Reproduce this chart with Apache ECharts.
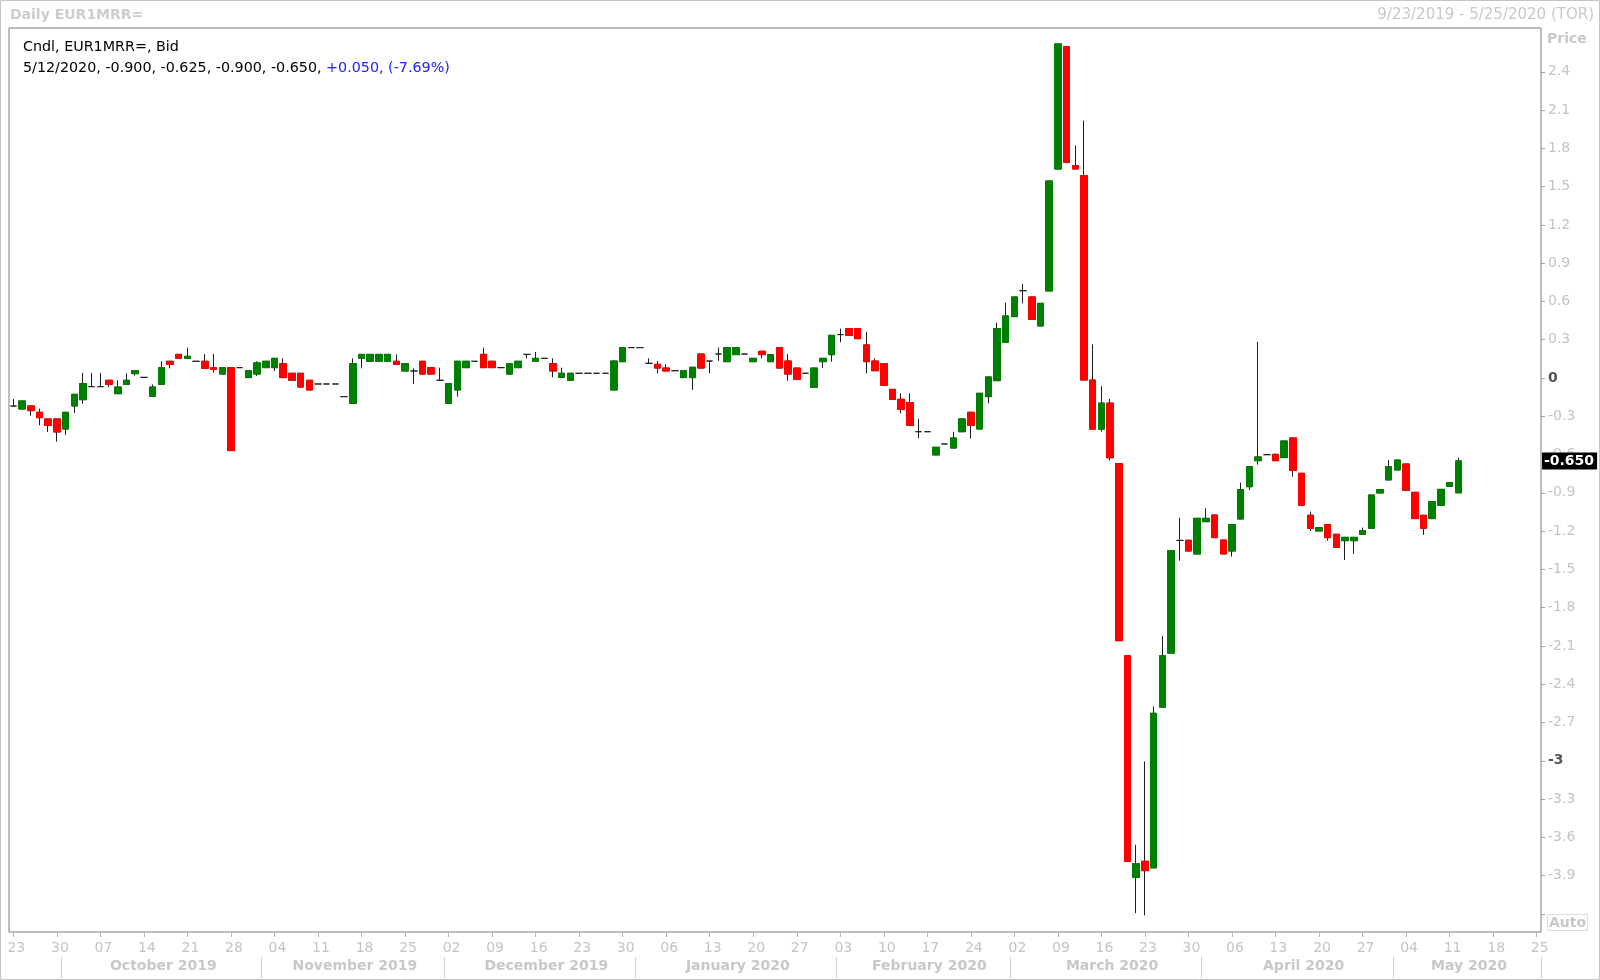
<!DOCTYPE html>
<html><head><meta charset="utf-8">
<script src="https://cdn.jsdelivr.net/npm/echarts@6/dist/echarts.min.js"></script>
<style>html,body{margin:0;padding:0;background:#fff}#c{width:1600px;height:980px}</style>
</head><body><div id="c"></div>
<script>
// ---- data ----
const startDate = '2019-09-23';
const endDate = '2020-05-25';
const open = [
-0.22,-0.243,-0.219,-0.269,-0.321,-0.321,-0.40,-0.219,-0.17,-0.068,
-0.068,-0.018,-0.123,-0.05,0.034,0.005,-0.144,-0.05,0.131,0.185,
0.154,0.131,0.131,0.081,0.031,0.081,0.081,0.003,0.031,0.081,
0.081,0.112,0.037,0.037,-0.018,-0.047,-0.047,-0.047,-0.146,-0.199,
0.154,0.131,0.131,0.131,0.131,0.055,0.055,0.131,0.081,-0.018,
-0.199,-0.094,0.081,0.131,0.185,0.131,0.081,0.031,0.081,0.185,
0.131,0.154,0.112,0.005,-0.018,0.037,0.037,0.037,0.037,-0.094,
0.128,0.238,0.238,0.115,0.107,0.078,0.057,0.003,0.003,0.188,
0.133,0.188,0.128,0.183,0.188,0.128,0.209,0.128,0.238,0.133,
0.078,0.037,-0.073,0.128,0.183,0.34,0.387,0.387,0.259,0.133,
0.112,-0.089,-0.167,-0.193,-0.421,-0.421,-0.603,-0.517,-0.549,-0.421,
-0.269,-0.4,-0.146,-0.021,0.28,0.481,0.684,0.635,0.408,0.682,
1.638,2.597,1.664,1.586,-0.016,-0.401,-0.197,-0.672,-2.177,-3.915,
-3.788,-3.839,-2.58,-2.156,-1.273,-1.272,-1.379,-1.126,-1.074,-1.27,
-1.356,-1.105,-0.852,-0.648,-0.601,-0.598,-0.624,-0.47,-0.747,-1.076,
-1.199,-1.149,-1.225,-1.275,-1.275,-1.225,-1.178,-0.901,-0.799,-0.721,
-0.674,-0.896,-1.076,-1.102,-0.998,-0.849,-0.9
];
const close = [
-0.22,-0.18,-0.256,-0.311,-0.371,-0.423,-0.269,-0.128,-0.044,-0.068,
-0.068,-0.05,-0.071,-0.018,0.057,0.005,-0.071,0.081,0.107,0.154,
0.17,0.131,0.076,0.068,0.081,-0.569,0.081,0.057,0.118,0.131,
0.154,0.003,-0.018,-0.071,-0.094,-0.047,-0.047,-0.047,-0.146,0.112,
0.185,0.185,0.185,0.185,0.107,0.112,0.055,0.031,0.031,-0.018,
-0.044,0.131,0.131,0.131,0.081,0.081,0.081,0.112,0.131,0.185,
0.154,0.154,0.055,0.037,0.037,0.037,0.037,0.037,0.037,0.133,
0.238,0.238,0.238,0.115,0.078,0.055,0.057,0.057,0.084,0.078,
0.133,0.188,0.238,0.238,0.188,0.154,0.183,0.183,0.078,0.031,
-0.01,0.037,0.078,0.154,0.334,0.34,0.334,0.308,0.128,0.057,
-0.057,-0.167,-0.246,-0.371,-0.421,-0.421,-0.543,-0.517,-0.47,-0.321,
-0.371,-0.12,0.008,0.387,0.486,0.635,0.684,0.46,0.585,1.544,
2.618,1.69,1.638,-0.016,-0.401,-0.197,-0.625,-2.059,-3.788,-3.807,
-3.861,-2.628,-2.177,-1.352,-1.273,-1.356,-1.1,-1.1,-1.251,-1.379,
-1.149,-0.875,-0.695,-0.619,-0.601,-0.648,-0.494,-0.724,-0.998,-1.178,
-1.173,-1.251,-1.327,-1.249,-1.249,-1.196,-0.917,-0.875,-0.695,-0.643,
-0.88,-1.102,-1.178,-0.969,-0.873,-0.82,-0.65
];
const low = [
-0.22,-0.243,-0.295,-0.371,-0.423,-0.499,-0.447,-0.274,-0.201,-0.068,
-0.068,-0.073,-0.123,-0.05,0.018,0.005,-0.144,-0.05,0.076,0.154,
0.154,0.131,0.076,0.042,0.031,-0.569,0.081,0.003,0.016,0.081,
0.055,0.003,-0.018,-0.071,-0.094,-0.047,-0.047,-0.047,-0.146,-0.199,
0.076,0.131,0.131,0.131,0.107,0.055,-0.047,0.031,0.031,-0.018,
-0.199,-0.146,0.081,0.131,0.081,0.081,0.081,0.031,0.081,0.154,
0.131,0.154,0.005,0.005,-0.018,0.037,0.037,0.037,0.037,-0.094,
0.128,0.238,0.238,0.115,0.037,0.055,0.057,0.003,-0.094,0.078,
0.037,0.133,0.128,0.183,0.188,0.128,0.154,0.128,0.078,-0.021,
-0.01,0.037,-0.073,0.078,0.128,0.28,0.334,0.308,0.037,0.057,
-0.057,-0.167,-0.277,-0.371,-0.473,-0.421,-0.603,-0.517,-0.549,-0.421,
-0.475,-0.4,-0.199,-0.021,0.28,0.481,0.585,0.46,0.408,0.682,
1.638,1.69,1.638,-0.016,-0.401,-0.421,-0.647,-2.059,-3.788,-4.194,
-4.212,-3.839,-2.58,-2.156,-1.432,-1.356,-1.379,-1.126,-1.251,-1.379,
-1.4,-1.105,-0.878,-0.679,-0.601,-0.648,-0.624,-0.773,-0.998,-1.199,
-1.199,-1.275,-1.327,-1.426,-1.379,-1.225,-1.178,-0.901,-0.799,-0.721,
-0.88,-1.102,-1.23,-1.102,-0.998,-0.849,-0.9
];
const high = [
-0.165,-0.18,-0.219,-0.24,-0.321,-0.321,-0.269,-0.128,0.039,0.039,
0.039,-0.018,-0.018,0.037,0.057,0.005,-0.05,0.131,0.131,0.185,
0.238,0.131,0.188,0.188,0.081,0.081,0.081,0.057,0.131,0.131,
0.154,0.154,0.037,0.037,-0.018,-0.047,-0.047,-0.047,-0.146,0.154,
0.185,0.185,0.185,0.185,0.185,0.112,0.076,0.131,0.081,0.081,
-0.044,0.131,0.131,0.131,0.238,0.131,0.081,0.112,0.131,0.185,
0.204,0.154,0.154,0.081,0.037,0.037,0.037,0.037,0.037,0.133,
0.238,0.238,0.238,0.154,0.133,0.107,0.057,0.057,0.084,0.188,
0.133,0.238,0.238,0.238,0.188,0.154,0.209,0.183,0.238,0.188,
0.078,0.037,0.078,0.154,0.334,0.387,0.387,0.387,0.36,0.154,
0.112,-0.089,-0.12,-0.12,-0.321,-0.421,-0.543,-0.517,-0.421,-0.321,
-0.269,-0.12,0.008,0.434,0.59,0.635,0.737,0.635,0.585,1.544,
2.618,2.597,1.821,2.017,0.264,-0.064,-0.164,-0.672,-2.177,-3.659,
-3.005,-2.574,-2.022,-1.352,-1.095,-1.272,-1.1,-1.021,-1.074,-1.27,
-1.149,-0.82,-0.695,0.282,-0.601,-0.598,-0.494,-0.47,-0.747,-1.048,
-1.173,-1.149,-1.225,-1.249,-1.249,-1.173,-0.917,-0.875,-0.643,-0.643,
-0.674,-0.896,-1.076,-0.969,-0.873,-0.82,-0.625
];
const yLabelValues = [2.4,2.1,1.8,1.5,1.2,0.9,0.6,0.3,0,-0.3,-0.6,-0.9,-1.2,-1.5,-1.8,-2.1,-2.4,-2.7,-3,-3.3,-3.6,-3.9];
const yTickValues = [2.4,2.1,1.8,1.5,1.2,0.9,0.6,0.3,0,-0.3,-0.6,-0.9,-1.2,-1.5,-1.8,-2.1,-2.4,-2.7,-3,-3.3,-3.6,-3.9,-4.2];
const boldTicks = [0, -3];
const yMin = -4.342, yMax = 2.743;
const changeText = '+0.050, (-7.69%)';
const monthNames = ['January','February','March','April','May','June','July','August','September','October','November','December'];

// ---- derived ----
function weekdays(s, e) {
  const out = []; let d = new Date(s + 'T00:00:00Z'); const end = new Date(e + 'T00:00:00Z');
  while (d <= end) { const w = d.getUTCDay(); if (w > 0 && w < 6) out.push(d.toISOString().slice(0, 10)); d = new Date(d.getTime() + 86400000); }
  return out;
}
const dates = weekdays(startDate, endDate);
const isMonday = v => new Date(v + 'T00:00:00Z').getUTCDay() === 1;
const monthIdx = {};
dates.forEach((d, i) => { const k = d.slice(0, 7); (monthIdx[k] = monthIdx[k] || []).push(i); });
const monthMid = new Set(), monthStart = new Set();
Object.keys(monthIdx).forEach(k => { const a = monthIdx[k]; if (a[0] > 0) monthStart.add(a[0]); if (a.length >= 10) monthMid.add(a[Math.floor(a.length / 2)]); });

const wickData = open.map((o, i) => [o, close[i], low[i], high[i]]);
const bodyData = open.map((o, i) => o === close[i] ? '-' : [o, close[i], Math.min(o, close[i]), Math.max(o, close[i])]);
const last = open.length - 1;
const lastDate = dates[last];
const mdY = s => (+s.slice(5, 7)) + '/' + (+s.slice(8, 10)) + '/' + s.slice(0, 4);
const f3 = v => v.toFixed(3);
const headerLine2 = mdY(lastDate) + ', ' + [open[last], high[last], low[last], close[last]].map(f3).join(', ') + ', ';
const rangeText = mdY(dates[0]) + ' - ' + mdY(dates[dates.length - 1]) + ' (TOR)';

const F = 'DejaVu Sans';
const fmtY = v => { const n = Number(v.toFixed(1)); const s = String(n); return boldTicks.includes(n) ? '{b|' + s + '}' : s; };

const chart = echarts.init(document.getElementById('c'), null, { renderer: 'canvas' });
chart.setOption({
  animation: false,
  backgroundColor: '#ffffff',
  textStyle: { fontFamily: F },
  title: [
    { text: 'Daily EUR1MRR=', left: 5, top: 3, textStyle: { color: '#cdcdcd', fontWeight: 'bold', fontSize: 14, fontFamily: F } },
    { text: rangeText, right: 1, top: 3, textStyle: { color: '#c8c8c8', fontWeight: 'normal', fontSize: 15, fontFamily: F } },
    { text: 'Cndl, EUR1MRR=, Bid\n' + headerLine2 + '{blue|' + changeText + '}', left: 18, top: 32,
      textStyle: { color: '#000', fontWeight: 'normal', fontSize: 14.3, fontFamily: F, lineHeight: 21,
        rich: { blue: { color: '#2020ff', fontSize: 14.3, fontFamily: F, lineHeight: 21 } } } },
    { text: 'Price', left: 1542, top: 27, textStyle: { color: '#c8c8c8', fontWeight: 'bold', fontSize: 14, fontFamily: F } },
    { text: 'Auto', left: 1547, top: 914, padding: [2, 2, 1, 2], borderColor: '#dcdcdc', borderWidth: 1,
      textStyle: { color: '#c8c8c8', fontWeight: 'bold', fontSize: 14, fontFamily: F } }
  ],
  graphic: [
    { type: 'rect', silent: true, z: -10, shape: { x: 0.5, y: 0.5, width: 1599, height: 979 }, style: { fill: 'none', stroke: '#c4c4c4', lineWidth: 1 } }
  ],
  grid: { left: 9, right: 59, top: 28, bottom: 48, show: true, borderColor: '#7a7a7a', borderWidth: 1, backgroundColor: '#fff', containLabel: false, outerBoundsMode: 'none' },
  xAxis: [
    { type: 'category', data: dates, boundaryGap: true, axisLine: { show: false, onZero: false }, splitLine: { show: false },
      axisTick: { show: true, alignWithLabel: true, interval: (i, v) => isMonday(v), length: 5, lineStyle: { color: '#b4b4b4' } },
      axisLabel: { interval: (i, v) => isMonday(v), formatter: v => v.slice(8, 10), color: '#c4c4c4', fontSize: 14, fontFamily: F, margin: 9, padding: [0, 0, 0, 6] } },
    { type: 'category', data: dates, boundaryGap: true, position: 'bottom', offset: 25, axisLine: { show: false, onZero: false }, splitLine: { show: false },
      axisTick: { show: true, interval: (i) => monthStart.has(i), length: 21, lineStyle: { color: '#d0d0d0' } },
      axisLabel: { interval: (i) => monthMid.has(i), formatter: v => monthNames[+v.slice(5, 7) - 1] + ' ' + v.slice(0, 4), color: '#c8c8c8', fontWeight: 'bold', fontSize: 14, fontFamily: F, margin: 2, padding: [0, 0, 0, 4] } }
  ],
  yAxis: [
    { type: 'value', position: 'right', min: yMin, max: yMax, axisLine: { show: false, onZero: false }, splitLine: { show: false },
      axisTick: { show: true, length: 4, customValues: yTickValues, lineStyle: { color: '#a0a0a0' } },
      axisLabel: { customValues: yLabelValues, formatter: fmtY, color: '#c4c4c4', fontSize: 14, fontFamily: F, margin: 7,
        rich: { b: { color: '#555', fontWeight: 'bold', fontSize: 14, fontFamily: F } } } },
    { type: 'value', position: 'right', min: yMin, max: yMax, axisLine: { show: false, onZero: false }, splitLine: { show: false }, axisTick: { show: false },
      axisLabel: { customValues: [close[last]], formatter: v => v.toFixed(3), color: '#fff', backgroundColor: '#000', fontWeight: 'bold', fontSize: 14, fontFamily: F, padding: [2, 3, 1, 2], margin: 1 } }
  ],
  series: [
    { type: 'candlestick', data: wickData, barWidth: 7, silent: true, z: 2,
      itemStyle: { color: 'rgba(0,0,0,0)', color0: 'rgba(0,0,0,0)', borderColor: '#1e1e1e', borderColor0: '#1e1e1e', borderColorDoji: '#1e1e1e', borderWidth: 1 } },
    { type: 'candlestick', data: bodyData, barWidth: 7, silent: true, z: 3,
      itemStyle: { color: '#008000', color0: '#ff0000', borderColor: '#008000', borderColor0: '#ff0000', borderWidth: 1 } }
  ]
});
</script></body></html>
